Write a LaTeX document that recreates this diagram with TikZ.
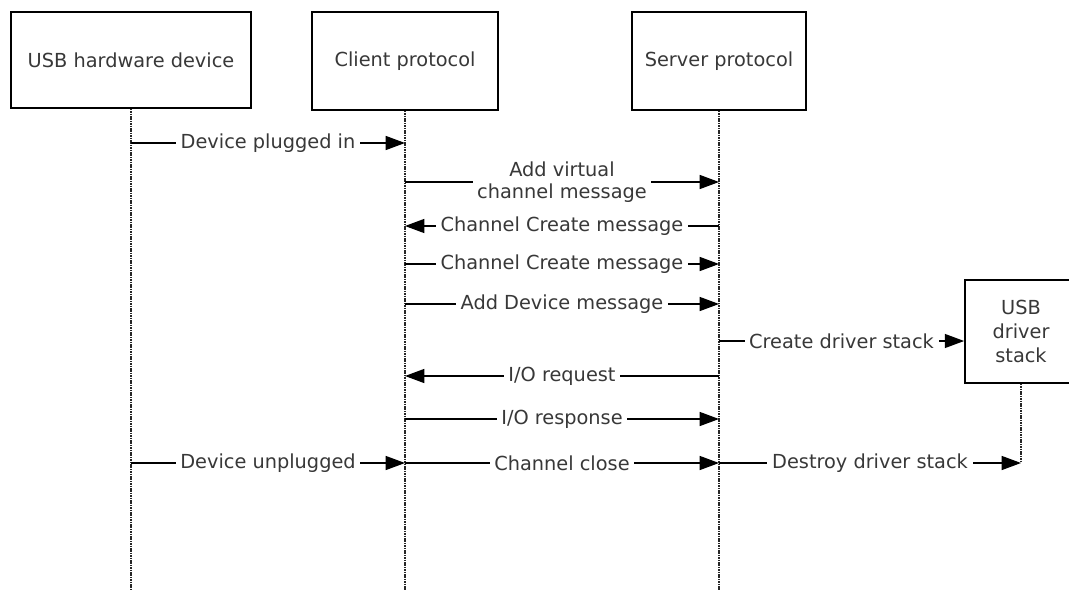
\documentclass[tikz,border=0pt]{standalone}
\usepackage{fontspec}
\setmainfont{DejaVu Sans}
\usetikzlibrary{arrows.meta}
\tikzset{
  actor/.style={draw=black, line width=1.3pt, fill=white, inner sep=0pt, align=center,
    font=\fontsize{14.5pt}{18pt}\selectfont, text=black!78},
  lifeline/.style={draw=black!85, line width=0.8pt, dash pattern=on 1.1pt off 0.7pt},
  msg/.style={draw=black, line width=1pt, -{Triangle[length=14.5pt,width=10.5pt]}},
  lbl/.style={fill=white, inner xsep=3.5pt, inner ysep=1pt, align=center,
    font=\fontsize{14.5pt}{16.5pt}\selectfont, text=black!78},
}
\begin{document}
\begin{tikzpicture}[x=0.75pt,y=-0.75pt]
\useasboundingbox (0,0) rectangle (1069,592);
% actors
\node[actor, minimum width=180pt, minimum height=72pt] (usb) at (131,60) {USB hardware device};
\node[actor, minimum width=139.5pt, minimum height=73.5pt] (cli) at (405,61) {Client protocol};
\node[actor, minimum width=130.5pt, minimum height=73.5pt] (srv) at (719,61) {Server protocol};
\node[actor, minimum width=84pt, minimum height=77.25pt] (drv) at (1021,331.5) {USB\\driver\\stack};
% lifeline ends
\coordinate (usbEnd) at (131,590);
\coordinate (cliEnd) at (405,590);
\coordinate (srvEnd) at (719,590);
\coordinate (drvEnd) at (1021,463);
\draw[lifeline] (usb.south) -- (usbEnd);
\draw[lifeline] (cli.south) -- (cliEnd);
\draw[lifeline] (srv.south) -- (srvEnd);
\draw[lifeline] (drv.south) -- (drvEnd);
% message endpoints
\coordinate (u1) at (131,143);  \coordinate (c1) at (405,143);
\coordinate (c2) at (405,182);  \coordinate (s2) at (719,182);
\coordinate (c3) at (405,226);  \coordinate (s3) at (719,226);
\coordinate (c4) at (405,264);  \coordinate (s4) at (719,264);
\coordinate (c5) at (405,304);  \coordinate (s5) at (719,304);
\coordinate (s6) at (719,341);
\coordinate (c7) at (405,376);  \coordinate (s7) at (719,376);
\coordinate (c8) at (405,419);  \coordinate (s8) at (719,419);
\coordinate (u9) at (131,463);  \coordinate (c9) at (405,463);
\coordinate (s9) at (719,463);
% messages
\draw[msg] (u1) -- node[lbl] (m1) {Device plugged in} (c1);
\draw[msg] (c2) -- node[lbl] (m2) {Add virtual\\channel message} (s2);
\draw[msg] (s3) -- node[lbl] (m3) {Channel Create message} (c3);
\draw[msg] (c4) -- node[lbl] (m4) {Channel Create message} (s4);
\draw[msg] (c5) -- node[lbl] (m5) {Add Device message} (s5);
\draw[msg] (s6) -- node[lbl] (m6) {Create driver stack} (drv.west |- s6);
\draw[msg] (s7) -- node[lbl] (m7) {I/O request} (c7);
\draw[msg] (c8) -- node[lbl] (m8) {I/O response} (s8);
\draw[msg] (u9) -- node[lbl] (m9) {Device unplugged} (c9);
\draw[msg] (c9) -- node[lbl] (m10) {Channel close} (s9);
\draw[msg] (s9) -- node[lbl] (m11) {Destroy driver stack} (drvEnd);
\end{tikzpicture}
\end{document}
